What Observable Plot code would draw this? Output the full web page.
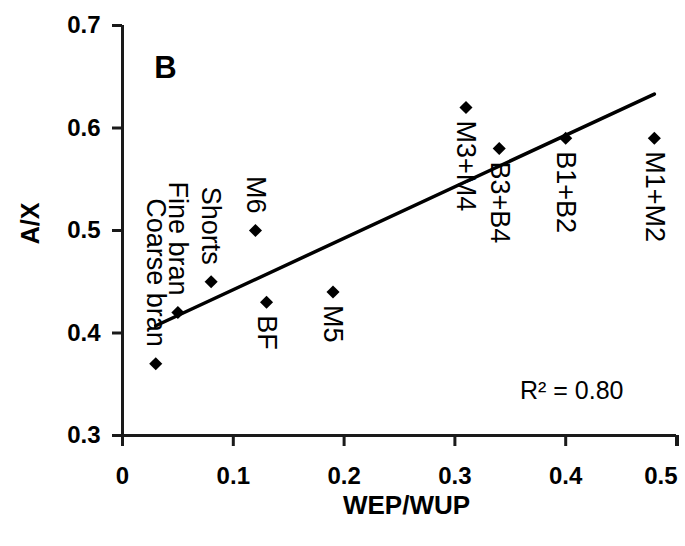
<!DOCTYPE html>
<html><head><meta charset="utf-8">
<script src="https://cdn.jsdelivr.net/npm/d3@7"></script>
<script src="https://cdn.jsdelivr.net/npm/@observablehq/plot@0.6"></script>
<style>html,body{margin:0;padding:0;background:#fff;overflow:hidden}</style>
</head><body><div id="chart"></div>
<script>
const fractions = ["Coarse bran","Fine bran","Shorts","M6","BF","M5","M3+M4","B3+B4","B1+B2","M1+M2"];
const wepWup = [0.03,0.05,0.08,0.12,0.13,0.19,0.31,0.34,0.40,0.48];
const axRatio = [0.37,0.42,0.45,0.50,0.43,0.44,0.62,0.58,0.59,0.59];
const labelsAbove = ["Coarse bran","Fine bran","Shorts","M6"];
const xTicks = [0,0.1,0.2,0.3,0.4,0.5];
const xTickLabels = ["0","0.1","0.2","0.3","0.4","0.5"];
const yTicks = [0.3,0.4,0.5,0.6,0.7];
const yTickLabels = ["0.3","0.4","0.5","0.6","0.7"];
const panelLabel = "B";
const xTitle = "WEP/WUP";
const yTitle = "A/X";

const data = fractions.map((f, i) => ({fraction: f, x: wepWup[i], y: axRatio[i]}));
const mx = d3.mean(wepWup), my = d3.mean(axRatio);
let sxy = 0, sxx = 0, syy = 0;
for (let i = 0; i < wepWup.length; i++) {
  sxy += (wepWup[i] - mx) * (axRatio[i] - my);
  sxx += (wepWup[i] - mx) ** 2;
  syy += (axRatio[i] - my) ** 2;
}
const r2 = (sxy * sxy) / (sxx * syy);
const r2Text = "R\u00B2 = " + r2.toFixed(2);

const lastTick = xTicks[xTicks.length - 1];
const xLabel = d => xTickLabels[xTicks.indexOf(d)];
const font = "'Liberation Sans', Arial, sans-serif";
const axisStyle = {fontSize: 24, fontWeight: "bold", strokeWidth: 3, stroke: "#1a1a1a", fill: "#000"};

const chart = Plot.plot({
  width: 685,
  height: 546,
  marginLeft: 122,
  marginRight: 9,
  marginTop: 25,
  marginBottom: 111,
  style: {fontFamily: font, color: "#000", background: "#fff", overflow: "visible"},
  x: {domain: [0, 0.5]},
  y: {domain: [0.3, 0.7]},
  marks: [
    Plot.axisX({...axisStyle, ticks: xTicks, tickFormat: d => (d === lastTick ? "" : xLabel(d)), tickSize: 11, tickPadding: 20,
      label: null}),
    Plot.axisX({...axisStyle, ticks: [lastTick], tickFormat: xLabel, tickSize: 11, tickPadding: 20,
      textAnchor: "end", dx: 1, label: null}),
    Plot.axisY({...axisStyle, ticks: yTicks, tickFormat: d => yTickLabels[yTicks.indexOf(d)], tickSize: 10, tickPadding: 12,
      label: null}),
    Plot.text([xTitle], {frameAnchor: "bottom", dx: 7, dy: 70, lineAnchor: "middle", textAnchor: "middle",
      fontSize: 26, fontWeight: "bold", fill: "#000"}),
    Plot.text([yTitle], {frameAnchor: "left", dx: -92, dy: -7, rotate: -90, lineAnchor: "middle", textAnchor: "middle",
      fontSize: 25, fontWeight: "bold", fill: "#000"}),
    Plot.ruleY([0.3], {stroke: "#1a1a1a", strokeWidth: 3}),
    Plot.ruleX([0], {stroke: "#1a1a1a", strokeWidth: 3}),
    Plot.linearRegressionY(data, {x: "x", y: "y", stroke: "#000", strokeWidth: 3.5, ci: 0}),
    Plot.dot(data, {x: "x", y: "y", symbol: "diamond2", r: 5.9, fill: "#000", stroke: "none"}),
    Plot.text(data.filter(d => labelsAbove.includes(d.fraction)), {x: "x", y: "y", text: "fraction", rotate: 90,
      textAnchor: "end", lineAnchor: "middle", dy: -17, fontSize: 27, fill: "#000"}),
    Plot.text(data.filter(d => !labelsAbove.includes(d.fraction)), {x: "x", y: "y", text: "fraction", rotate: 90,
      textAnchor: "start", lineAnchor: "middle", dy: 13, fontSize: 27, fill: "#000"}),
    Plot.text([r2Text], {frameAnchor: "bottom-right", dx: -53, dy: -37, textAnchor: "end", lineAnchor: "bottom", fontSize: 25, fill: "#000"}),
    Plot.text([panelLabel], {frameAnchor: "top-left", dx: 43, dy: 43, textAnchor: "middle", lineAnchor: "middle", fontSize: 31, fontWeight: "bold", fill: "#000"})
  ]
});
document.getElementById("chart").append(chart);
</script>
</body></html>
